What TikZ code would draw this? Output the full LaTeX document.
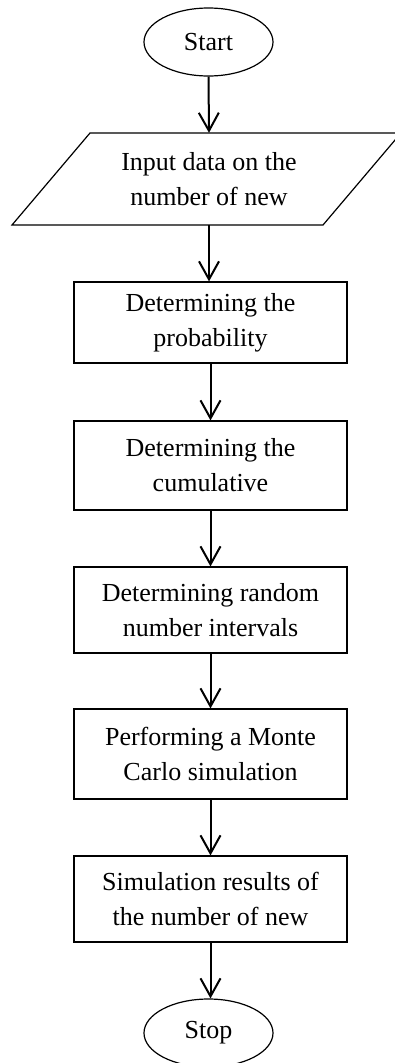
\documentclass[tikz,border=0pt]{standalone}
\usepackage{fontspec}
\setmainfont{Liberation Serif}
\usetikzlibrary{arrows.meta,shapes.geometric}
\tikzset{
  every node/.style={font=\fontsize{26}{35}\selectfont, align=center, inner sep=0pt},
  procbox/.style={draw, line width=1.2pt, minimum width=273pt},
  term/.style={draw, ellipse, line width=1.2pt, minimum width=129pt, minimum height=68pt},
  flow/.style={line width=2pt, -{Straight Barb[length=18pt,width=20pt,line width=2pt]}}
}
\begin{document}
\begin{tikzpicture}[x=1pt,y=-1pt]
\useasboundingbox (0,0) rectangle (394,1063);
\node[term] (start) at (208.5,42) {Start};
\node[minimum width=200pt, minimum height=92pt] (inp) at (209,179) {Input data on the\\number of new};
\draw[line width=1.2pt] (90,133) -- (401,133) -- (323,225) -- (12,225) -- cycle;
\node[procbox, minimum height=81pt] (p1) at (210.5,322.5) {Determining the\\probability};
\node[procbox, minimum height=89pt] (p2) at (210.5,465.5) {Determining the\\cumulative};
\node[procbox, minimum height=86pt] (p3) at (210.5,610) {Determining random\\number intervals};
\node[procbox, minimum height=90pt] (p4) at (210.5,754) {Performing a Monte\\Carlo simulation};
\node[procbox, minimum height=86pt] (p5) at (210.5,899) {Simulation results of\\the number of new};
\node[term] (stop) at (208.5,1033) {Stop};
\draw[flow] (start.south) -- (inp.north);
\draw[flow] (inp.south) -- (p1.north -| inp.south);
\draw[flow] (p1.south) -- (p2.north);
\draw[flow] (p2.south) -- (p3.north);
\draw[flow] (p3.south) -- (p4.north);
\draw[flow] (p4.south) -- (p5.north);
\draw[flow] (p5.south) -- (stop.north -| p5.south);
\end{tikzpicture}
\end{document}
